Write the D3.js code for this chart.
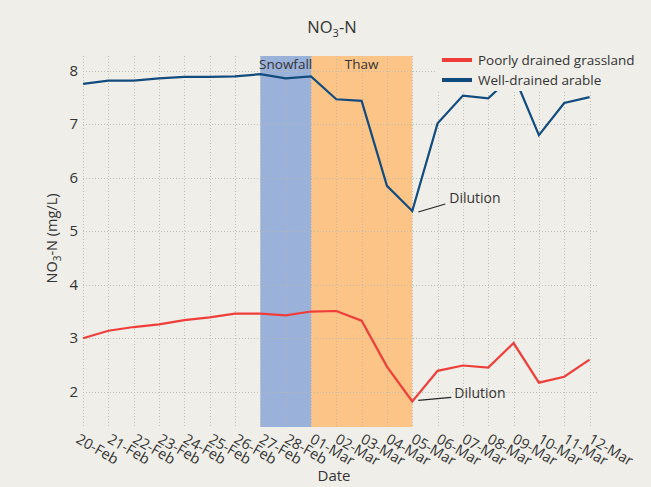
<!DOCTYPE html>
<html>
<head>
<meta charset="utf-8">
<script src="https://cdn.jsdelivr.net/npm/d3@7.9.0/dist/d3.min.js"></script>
<style>
  html, body { margin: 0; padding: 0; background: #efeee9; }
  svg { display: block; font-family: "Open Sans", "Noto Sans", sans-serif; }
</style>
</head>
<body>
<svg id="chart" width="651" height="487"></svg>
<script>
// ---- data ----
const dates = ['20-Feb', '21-Feb', '22-Feb', '23-Feb', '24-Feb', '25-Feb', '26-Feb', '27-Feb', '28-Feb',
  '01-Mar', '02-Mar', '03-Mar', '04-Mar', '05-Mar', '06-Mar', '07-Mar', '08-Mar', '09-Mar',
  '10-Mar', '11-Mar', '12-Mar'];
const grassland = [3.0, 3.14, 3.21, 3.26, 3.34, 3.39, 3.46, 3.46, 3.43, 3.5, 3.51, 3.33, 2.47, 1.82,
  2.39, 2.49, 2.45, 2.91, 2.17, 2.28, 2.6];
const arable = [7.76, 7.82, 7.82, 7.86, 7.89, 7.89, 7.9, 7.94, 7.86, 7.9, 7.47, 7.44, 5.85, 5.38,
  7.02, 7.54, 7.49, 7.93, 6.8, 7.4, 7.51];
const yTicks = [2, 3, 4, 5, 6, 7, 8];
const periods = [
  { label: 'Snowfall', start: '27-Feb', end: '01-Mar', color: '#9ab1da' },
  { label: 'Thaw', start: '01-Mar', end: '05-Mar', color: '#fdc487' }
];
const seriesNames = ['Poorly drained grassland', 'Well-drained arable'];
const dilutionAt = '05-Mar';

const parse = d3.timeParse('%d-%b');
const fmt = d3.timeFormat('%d-%b');
const days = dates.map(parse);

const svg = d3.select('#chart');
const plotL = 82, plotR = 598, plotT = 56, plotB = 427;

const x = d3.scaleTime()
  .domain([d3.timeHour.offset(days[0], -1), d3.timeHour.offset(days[days.length - 1], 8)])
  .range([plotL, plotR]);
const y = d3.scaleLinear().domain([1.34, 8.28]).range([plotB, plotT]);

const colors = d3.scaleOrdinal().domain(seriesNames).range(['#ef3e3a', '#124c7e']);

// ---- shaded periods ----
svg.selectAll('rect.period')
  .data(periods)
  .join('rect')
  .attr('class', 'period')
  .attr('x', d => x(parse(d.start)))
  .attr('width', d => x(parse(d.end)) - x(parse(d.start)))
  .attr('y', plotT)
  .attr('height', plotB - plotT)
  .attr('fill', d => d.color);

// ---- grid ----
const grid = svg.append('g')
  .attr('stroke', '#b9b8ae')
  .attr('stroke-width', 1)
  .attr('stroke-dasharray', '1,2')
  .attr('opacity', 0.85);

grid.selectAll('line.v')
  .data(days)
  .join('line')
  .attr('class', 'v')
  .attr('x1', d => Math.round(x(d)) + 0.5)
  .attr('x2', d => Math.round(x(d)) + 0.5)
  .attr('y1', plotT)
  .attr('y2', plotB);

grid.selectAll('line.h')
  .data(yTicks)
  .join('line')
  .attr('class', 'h')
  .attr('x1', plotL + 1)
  .attr('x2', plotR)
  .attr('y1', d => Math.round(y(d)) + 0.5)
  .attr('y2', d => Math.round(y(d)) + 0.5);

// ---- period labels ----
svg.selectAll('text.period')
  .data(periods)
  .join('text')
  .attr('class', 'period')
  .attr('x', d => (x(parse(d.start)) + x(parse(d.end))) / 2)
  .attr('y', 69)
  .attr('text-anchor', 'middle')
  .attr('font-size', 13.5)
  .attr('fill', '#333')
  .text(d => d.label);

// ---- lines ----
const line = d3.line().x((d, i) => x(days[i])).y(d => y(d));
const series = [
  { name: seriesNames[0], values: grassland },
  { name: seriesNames[1], values: arable }
];

svg.selectAll('path.series')
  .data(series)
  .join('path')
  .attr('class', 'series')
  .attr('d', d => line(d.values))
  .attr('fill', 'none')
  .attr('stroke', d => colors(d.name))
  .attr('stroke-width', 2.2)
  .attr('stroke-linejoin', 'miter');

// ---- legend (opaque box hides what is under it) ----
const legend = svg.append('g').attr('transform', 'translate(435,48)');
legend.append('rect')
  .attr('width', 205)
  .attr('height', 43)
  .attr('fill', '#efeee9');

legend.selectAll('g.item')
  .data(seriesNames)
  .join('g')
  .attr('class', 'item')
  .attr('transform', (d, i) => `translate(0,${12 + i * 20})`)
  .each(function (d) {
    const g = d3.select(this);
    g.append('line')
      .attr('x1', 7).attr('x2', 37)
      .attr('stroke', colors(d))
      .attr('stroke-width', 4);
    g.append('text')
      .attr('x', 43)
      .attr('y', 5)
      .attr('font-size', 13.5)
      .attr('fill', '#333')
      .text(d);
  });

// ---- dilution annotations ----
const dx = x(parse(dilutionAt));
const idx = dates.indexOf(dilutionAt);
const notes = [
  { v: arable[idx], x1: 6, y1: 1, x2: 33, y2: -7, tx: 37, ty: -8 },
  { v: grassland[idx], x1: 6, y1: -1, x2: 39, y2: -4, tx: 42, ty: -3 }
];
notes.forEach(n => {
  svg.append('line')
    .attr('x1', dx + n.x1).attr('y1', y(n.v) + n.y1)
    .attr('x2', dx + n.x2).attr('y2', y(n.v) + n.y2)
    .attr('stroke', '#222')
    .attr('stroke-width', 1.1);
  svg.append('text')
    .attr('x', dx + n.tx)
    .attr('y', y(n.v) + n.ty)
    .attr('font-size', 14)
    .attr('fill', '#333')
    .text('Dilution');
});

// ---- axes text ----
svg.selectAll('text.ytick')
  .data(yTicks)
  .join('text')
  .attr('class', 'ytick')
  .attr('x', 78)
  .attr('y', d => y(d) + 5)
  .attr('text-anchor', 'end')
  .attr('font-size', 15)
  .attr('fill', '#333')
  .text(d => d);

svg.selectAll('text.xtick')
  .data(days)
  .join('text')
  .attr('class', 'xtick')
  .attr('transform', (d, i) => `translate(${x(d) - (i === 0 ? 8 : 2)},${442}) rotate(30)`)
  .attr('font-size', 14.5)
  .attr('fill', '#333')
  .text(d => fmt(d));

svg.append('text')
  .attr('x', 334)
  .attr('y', 481)
  .attr('text-anchor', 'middle')
  .attr('font-size', 15)
  .attr('fill', '#333')
  .text('Date');

const ylab = svg.append('text')
  .attr('transform', `translate(57,${(plotT + plotB) / 2 - 3}) rotate(-90)`)
  .attr('text-anchor', 'middle')
  .attr('font-size', 14.5)
  .attr('fill', '#333');
ylab.append('tspan').text('NO');
ylab.append('tspan').attr('font-size', 10).attr('dy', 4).text('3');
ylab.append('tspan').attr('dy', -4).text('-N (mg/L)');

const title = svg.append('text')
  .attr('x', 332)
  .attr('y', 33)
  .attr('text-anchor', 'middle')
  .attr('font-size', 16.5)
  .attr('fill', '#333');
title.append('tspan').text('NO');
title.append('tspan').attr('font-size', 11).attr('dy', 4).text('3');
title.append('tspan').attr('dy', -4).text('-N');
</script>
</body>
</html>
